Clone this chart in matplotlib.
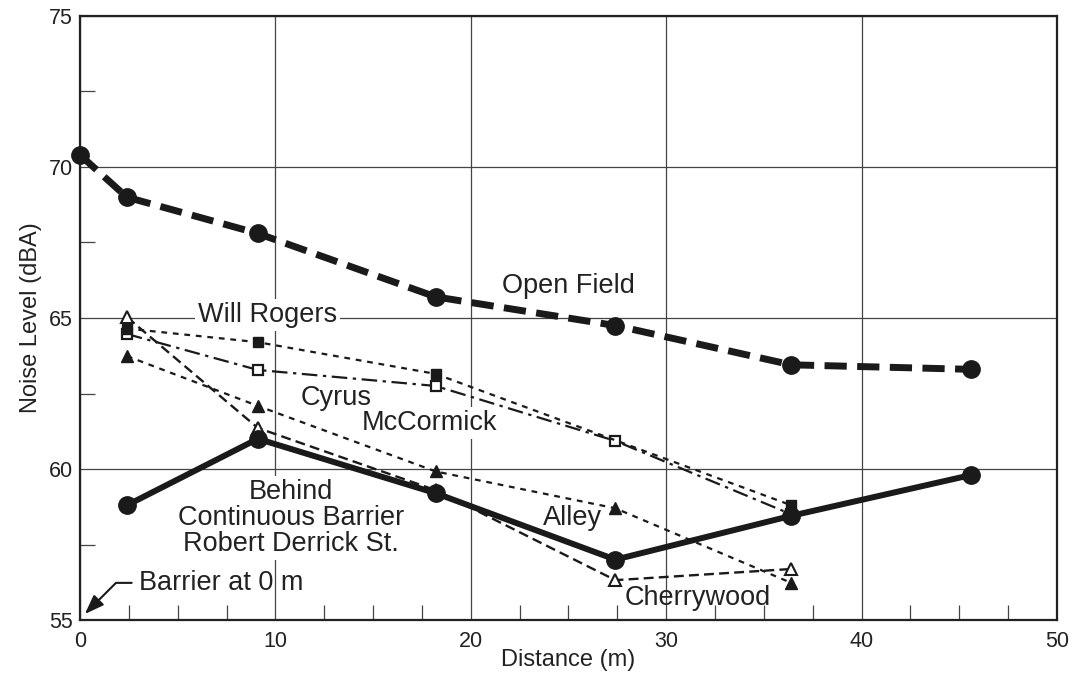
import numpy as np
import matplotlib.pyplot as plt
from matplotlib.ticker import MultipleLocator

plt.rcParams['font.family'] = ['Liberation Sans', 'DejaVu Sans']

# Distances (m) and noise levels (dBA)
dist = [0, 2.4, 9.1, 18.2, 27.4, 36.4, 45.6]
open_field = [70.4, 69.0, 67.8, 65.7, 64.75, 63.45, 63.3]

behind_x = [2.4, 9.1, 18.2, 27.4, 36.4, 45.6]
behind = [58.8, 61.0, 59.2, 57.0, 58.45, 59.8]

will_x = [2.4, 9.1, 18.2, 36.4]
will_rogers = [64.65, 64.2, 63.15, 58.8]

cyrus_x = [2.4, 9.1, 18.2, 27.4, 36.4]
cyrus = [64.47, 63.28, 62.75, 60.93, 58.5]

alley_x = [2.4, 9.1, 18.2, 27.4, 36.4]
alley = [63.74, 62.09, 59.92, 58.7, 56.23]

cherry_x = [2.4, 9.1, 18.2, 27.4, 36.4]
cherrywood = [65.03, 61.36, 59.3, 56.32, 56.69]

fig = plt.figure(figsize=(10.72, 6.8), dpi=100)
ax = fig.add_axes([0.0746, 0.0882, 0.9114, 0.8883])

ax.set_xlim(0, 50)
ax.set_ylim(55, 75)
ax.xaxis.set_major_locator(MultipleLocator(10))
ax.yaxis.set_major_locator(MultipleLocator(5))
ax.xaxis.set_minor_locator(MultipleLocator(2.5))
ax.yaxis.set_minor_locator(MultipleLocator(2.5))
ax.grid(True, which='major', color='#444444', lw=0.9, zorder=0.5)
ax.set_axisbelow(True)
ax.tick_params(which='major', length=0, labelsize=15.5, colors='#222222', pad=5)
ax.tick_params(axis='x', which='major', pad=8)
ax.tick_params(which='minor', direction='in', length=11, width=0.9, color='#444444')
for s in ax.spines.values():
    s.set_linewidth(1.6)
    s.set_color('#222222')

ax.set_xlabel('Distance (m)', fontsize=17, color='#222222', labelpad=-2)
ax.set_ylabel('Noise Level (dBA)', fontsize=17, color='#222222', labelpad=5)

k = '#1a1a1a'
ax.plot(cherry_x, cherrywood, color=k, lw=1.7, dashes=(4.2, 2.2), marker='^',
        ms=8, mfc='white', mec=k, mew=1.5, zorder=3, clip_on=False)
ax.plot(alley_x, alley, color=k, lw=1.6, dashes=(2.6, 2.6), marker='^',
        ms=8.5, mfc=k, mec=k, zorder=3, clip_on=False)
ax.plot(cyrus_x, cyrus, color=k, lw=1.6, dashes=(7, 2.5, 1.5, 2.5), marker='s',
        ms=7.5, mfc='white', mec=k, mew=1.6, zorder=3, clip_on=False)
ax.plot(will_x, will_rogers, color=k, lw=1.6, dashes=(2.6, 2.6), marker='s',
        ms=7.5, mfc=k, mec=k, zorder=3, clip_on=False)
ax.plot(behind_x, behind, color=k, lw=4.3, marker='o', ms=12.5, mfc=k, mec=k,
        zorder=4, clip_on=False)
ax.plot(dist, open_field, color=k, lw=5, dashes=(3.2, 1.5), marker='o', ms=12.5,
        mfc=k, mec=k, zorder=4, clip_on=False)

box = dict(facecolor='white', edgecolor='none', pad=2)
tkw = dict(fontsize=19.5, color='#222222', ha='center', va='center', zorder=2.5)
ax.text(25.0, 66.05, 'Open Field', **tkw)
ax.text(9.6, 65.1, 'Will Rogers', bbox=box, **tkw)
ax.text(13.1, 62.35, 'Cyrus', **tkw)
ax.text(17.9, 61.52, 'McCormick', bbox=box, **tkw)
ax.text(10.8, 58.38, 'Behind\nContinuous Barrier\nRobert Derrick St.',
        bbox=box, linespacing=1.0, **tkw)
ax.text(25.2, 58.38, 'Alley', **tkw)
ax.text(31.6, 55.73, 'Cherrywood', **tkw)

ax.annotate('Barrier at 0 m', xy=(0.25, 55.2), xytext=(3.0, 56.23),
            fontsize=19.5, color='#222222', va='center', ha='left',
            arrowprops=dict(arrowstyle='-|>,head_length=0.6,head_width=0.22',
                            color=k, lw=1.5, shrinkA=3, shrinkB=0,
                            relpos=(0, 0.5),
                            connectionstyle='angle,angleA=0,angleB=45,rad=0'))

fig.savefig('out.png', dpi=100)
